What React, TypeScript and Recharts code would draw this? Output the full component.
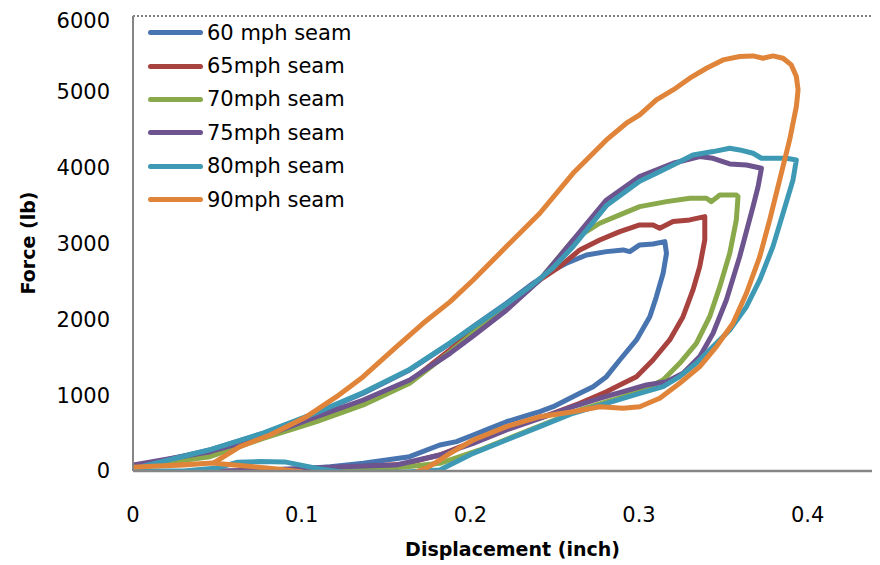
import React from 'react';
import {
  LineChart,
  Line,
  XAxis,
  YAxis,
  Legend,
  Label,
  ReferenceLine,
} from 'recharts';

// force-displacement loops, [displacement (inch), force (lb)]
const seam60: number[][] = [
  [0, 57], [0.02, 150], [0.0456, 277], [0.0772, 497], [0.1088, 761], [0.1365, 1025], [0.164, 1332], [0.188, 1684],
  [0.2017, 1904], [0.2214, 2212], [0.2372, 2476], [0.2491, 2651], [0.257, 2739], [0.2689, 2849], [0.2807, 2893],
  [0.2906, 2915], [0.2945, 2893], [0.3004, 2981], [0.3083, 2994], [0.3153, 3025],
  [0.3163, 2871], [0.3143, 2607], [0.3103, 2299], [0.3064, 2035], [0.2985, 1728], [0.2886, 1464], [0.2807, 1244],
  [0.2728, 1112], [0.2649, 1024], [0.257, 936], [0.2491, 848], [0.2412, 782], [0.2313, 716], [0.2214, 650],
  [0.2116, 563], [0.2017, 475], [0.1918, 387], [0.1819, 343], [0.164, 189], [0.1365, 101], [0.117, 57], [0.1, 30],
];

const seam65: number[][] = [
  [0, 60], [0.0456, 220], [0.0772, 440], [0.1088, 680], [0.1365, 900], [0.164, 1180], [0.188, 1600], [0.2017, 1850],
  [0.2214, 2170], [0.2372, 2460], [0.253, 2695], [0.2649, 2915], [0.2767, 3047], [0.2886, 3157], [0.3004, 3245],
  [0.3083, 3245], [0.3123, 3201], [0.3202, 3289], [0.3301, 3311], [0.339, 3355],
  [0.339, 3047], [0.336, 2695], [0.332, 2387], [0.3261, 2035], [0.3182, 1728], [0.3083, 1464], [0.2985, 1244],
  [0.2886, 1134], [0.2807, 1046], [0.2649, 893], [0.2491, 761], [0.2313, 629], [0.2116, 475], [0.1918, 299],
  [0.1819, 211], [0.16, 90], [0.13, 50], [0.09, 10],
];

const seam70: number[][] = [
  [0, 50], [0.0456, 189], [0.0772, 431], [0.1088, 651], [0.1365, 871], [0.164, 1156], [0.188, 1570], [0.2017, 1820],
  [0.2214, 2150], [0.2412, 2520], [0.261, 3047], [0.2767, 3267], [0.2886, 3377], [0.3004, 3486], [0.3163, 3552],
  [0.3301, 3597], [0.34, 3597], [0.3429, 3552], [0.3479, 3640], [0.3577, 3640], [0.3587, 3618],
  [0.3577, 3311], [0.3538, 2871], [0.3479, 2431], [0.3419, 2035], [0.334, 1684], [0.3241, 1420], [0.3143, 1200],
  [0.3044, 1090], [0.2846, 936], [0.2649, 805], [0.2451, 629], [0.2254, 453], [0.2056, 277], [0.1819, 101],
  [0.16, 50], [0.13, 20], [0.08, 0],
];

const seam75: number[][] = [
  [0, 79], [0.0456, 255], [0.0772, 452], [0.1088, 716], [0.1365, 936], [0.164, 1200], [0.188, 1552], [0.2017, 1780],
  [0.2214, 2120], [0.2412, 2519], [0.261, 3047], [0.2807, 3574], [0.3004, 3882], [0.3202, 4058], [0.336, 4146],
  [0.3439, 4124], [0.3538, 4049], [0.3637, 4036], [0.3726, 3993],
  [0.3706, 3750], [0.3676, 3486], [0.3597, 2827], [0.3518, 2255], [0.3439, 1816], [0.336, 1508], [0.3261, 1289],
  [0.3163, 1178], [0.3044, 1134], [0.2906, 1046], [0.2767, 959], [0.2609, 848], [0.2412, 695], [0.2214, 541],
  [0.2017, 365], [0.1819, 211], [0.156, 79], [0.1246, 57], [0.077, 13], [0.047, 0],
];

const seam80: number[][] = [
  [0, 30], [0.0456, 280], [0.0772, 500], [0.1088, 770], [0.1365, 1035], [0.164, 1340], [0.188, 1690], [0.2017, 1900],
  [0.2214, 2200], [0.2372, 2460], [0.2491, 2680], [0.261, 2960], [0.2807, 3500], [0.3004, 3820], [0.3103, 3926],
  [0.3202, 4036], [0.332, 4168], [0.3439, 4212], [0.3538, 4256], [0.3597, 4234], [0.3676, 4190], [0.3726, 4124],
  [0.3794, 4124], [0.3874, 4124], [0.3933, 4102],
  [0.3913, 3838], [0.3854, 3399], [0.3794, 2959], [0.3716, 2519], [0.3637, 2167], [0.3538, 1860], [0.3439, 1640],
  [0.334, 1420], [0.3241, 1244], [0.3143, 1112], [0.3004, 1024], [0.2807, 893], [0.2609, 761], [0.2412, 585],
  [0.2214, 409], [0.2017, 233], [0.1819, 13], [0.16, -15], [0.125, -15], [0.11, 30], [0.09, 120], [0.075, 125],
  [0.062, 115], [0.05, 40], [0.03, 0], [0, 0],
];

const seam90: number[][] = [
  [0.1, -10], [0.085, 25], [0.07, 60], [0.055, 90], [0.047, 105], [0.03, 80], [0.015, 65], [0, 50], [0.024, 75],
  [0.0476, 105], [0.0634, 321], [0.0812, 475], [0.1029, 716], [0.1207, 980], [0.1365, 1244], [0.1563, 1640],
  [0.172, 1948], [0.1879, 2230], [0.2017, 2519], [0.2214, 2959], [0.2412, 3399], [0.2609, 3926], [0.2807, 4366],
  [0.2925, 4586], [0.3004, 4696], [0.3103, 4893], [0.3202, 5025], [0.3301, 5180], [0.34, 5311], [0.3498, 5421],
  [0.3597, 5465], [0.3676, 5474], [0.3735, 5443], [0.3794, 5474], [0.3854, 5443], [0.3903, 5355], [0.3933, 5201],
  [0.3943, 5025],
  [0.3933, 4805], [0.3893, 4366], [0.3834, 3838], [0.3775, 3311], [0.3716, 2827], [0.3637, 2344], [0.3557, 1948],
  [0.3459, 1640], [0.336, 1376], [0.3241, 1157], [0.3123, 959], [0.3004, 848], [0.2906, 827], [0.2767, 848],
  [0.2609, 782], [0.2412, 716], [0.2214, 585], [0.2017, 409], [0.1879, 233], [0.1819, 145], [0.175, 50], [0.168, -10],
];

const seriesNames = ['60 mph seam', '65mph seam', '70mph seam', '75mph seam', '80mph seam', '90mph seam'];
const seriesColors = ['#4874b0', '#a8423f', '#89a94b', '#6d548e', '#3e9ab4', '#e0843a'];
const seriesData = [seam60, seam65, seam70, seam75, seam80, seam90];

const xTicks = [0, 0.1, 0.2, 0.3, 0.4];
const yTicks = [0, 1000, 2000, 3000, 4000, 5000, 6000];

const FONT = '"DejaVu Sans", sans-serif';

const toPoints = (arr: number[][]) => arr.map(([x, y]) => ({ x, y }));

const renderLegend = (props: any) => {
  const { payload } = props;
  return (
    <div style={{ fontFamily: FONT, fontSize: 21, color: '#000' }}>
      {payload.map((entry: any) => (
        <div key={entry.value} style={{ display: 'flex', alignItems: 'center', height: 33.4 }}>
          <span
            style={{
              display: 'inline-block',
              width: 55,
              height: 5,
              borderRadius: 3,
              background: entry.color,
              marginRight: 4,
            }}
          />
          <span>{entry.value}</span>
        </div>
      ))}
    </div>
  );
};

export default function App() {
  return (
    <div style={{ width: 872, height: 557, overflow: 'hidden' }}>
      <LineChart width={884} height={557} margin={{ top: 8, right: 0, bottom: 0, left: 0 }}>
        <XAxis
          type="number"
          dataKey="x"
          domain={[0, 0.45]}
          ticks={xTicks}
          allowDataOverflow
          height={94}
          tickLine={false}
          tickSize={0}
          tickMargin={36}
          axisLine={{ stroke: '#868686', strokeWidth: 2.5 }}
          tick={{ fill: '#000', fontSize: 21, fontFamily: FONT }}
        >
          <Label
            value="Displacement (inch)"
            position="insideBottom"
            offset={9}
            style={{ fontFamily: FONT, fontSize: 19, fontWeight: 'bold', fill: '#000' }}
          />
        </XAxis>
        <YAxis
          type="number"
          dataKey="y"
          domain={[0, 6000]}
          ticks={yTicks}
          allowDataOverflow
          width={125}
          tickLine={false}
          tickSize={0}
          tickMargin={23}
          axisLine={{ stroke: '#868686', strokeWidth: 2 }}
          tick={{ fill: '#000', fontSize: 21, fontFamily: FONT }}
        >
          <Label
            content={() => (
              <text
                x={20}
                y={235}
                transform="rotate(-90 20 235)"
                textAnchor="middle"
                dominantBaseline="central"
                style={{ fontFamily: FONT, fontSize: 19, fontWeight: 'bold', fill: '#000' }}
              >
                Force (lb)
              </text>
            )}
          />
        </YAxis>
        <ReferenceLine y={6000} stroke="#555" strokeDasharray="2 2" strokeWidth={1.5} />
        {seriesData.map((arr, i) => (
          <Line
            key={seriesNames[i]}
            name={seriesNames[i]}
            data={toPoints(arr)}
            dataKey="y"
            type="linear"
            stroke={seriesColors[i]}
            strokeWidth={5}
            strokeLinejoin="round"
            strokeLinecap="round"
            dot={false}
            activeDot={false}
            isAnimationActive={false}
          />
        ))}
        <Legend
          layout="vertical"
          align="center"
          verticalAlign="middle"
          content={renderLegend}
          wrapperStyle={{ top: 8, left: 140, width: 240 }}
        />
      </LineChart>
    </div>
  );
}
